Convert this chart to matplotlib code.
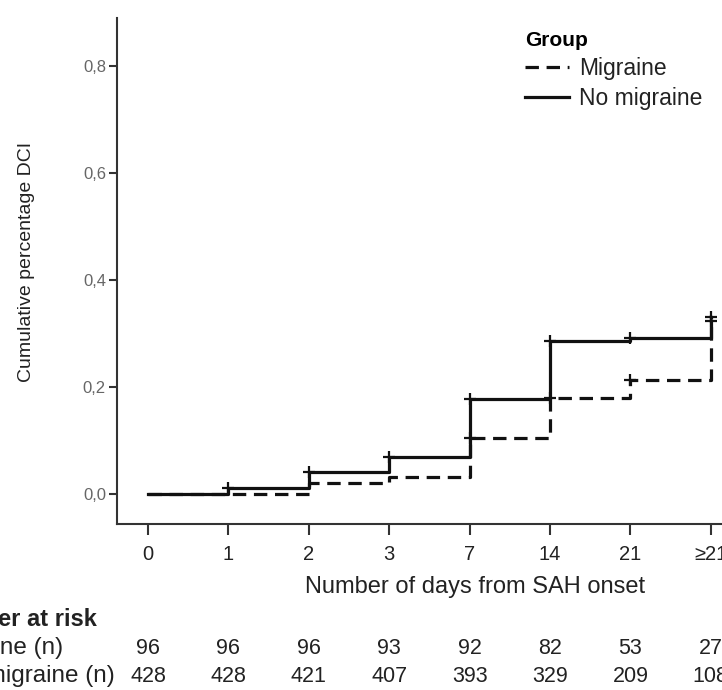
import matplotlib
matplotlib.use("Agg")
import matplotlib.pyplot as plt
from matplotlib.transforms import blended_transform_factory
import numpy as np

plt.rcParams['font.family'] = ['Liberation Sans', 'DejaVu Sans']

# ---- data ----
day_labels = ["0", "1", "2", "3", "7", "14", "21", "\u226521"]
migraine_cum = [0.0, 0.0, 0.021, 0.031, 0.104, 0.180, 0.213, 0.331]
no_migraine_cum = [0.0, 0.011, 0.042, 0.070, 0.178, 0.286, 0.291, 0.324]
migraine_censor_idx = [4, 5, 6, 7]
no_migraine_censor_idx = [1, 2, 3, 4, 5, 6, 7]
risk_migraine = [96, 96, 96, 93, 92, 82, 53, 27]
risk_no_migraine = [428, 428, 421, 407, 393, 329, 209, 108]
y_ticks = [0.0, 0.2, 0.4, 0.6, 0.8]
y_tick_labels = ["0,0", "0,2", "0,4", "0,6", "0,8"]

W, H = 722, 690
fig = plt.figure(figsize=(W / 100, H / 100), dpi=100)
ax_w_px = W - 117 + 7
ax = fig.add_axes([117 / W, 1 - 524 / H, ax_w_px / W, (524 - 18) / H])

xpos = np.arange(len(day_labels))
ax.plot(xpos, migraine_cum, drawstyle='steps-post', color='#111111', lw=2.3,
        dashes=(4.2, 2.4), label='Migraine')
ax.plot(xpos, no_migraine_cum, drawstyle='steps-post', color='#111111', lw=2.3,
        label='No migraine')
ax.plot(xpos[migraine_censor_idx], np.array(migraine_cum)[migraine_censor_idx],
        ls='none', marker='+', ms=8, mew=1.6, color='#111111')
ax.plot(xpos[no_migraine_censor_idx], np.array(no_migraine_cum)[no_migraine_censor_idx],
        ls='none', marker='+', ms=8, mew=1.6, color='#111111')

x_left = -(148 - 117) / 80.4
x_right = (722 + 7 - 148) / 80.4
ax.set_xlim(x_left, x_right)
ax.set_ylim(-30 / 535, (494 - 18) / 535)

ax.set_xticks(xpos)
ax.set_xticklabels(day_labels, fontsize=14.5, color='#222222')
ax.set_yticks(y_ticks)
ax.set_yticklabels(y_tick_labels, fontsize=12, color='#666666')
ax.tick_params(axis='x', direction='out', length=8, width=1.5, color='#333333', pad=7)
ax.tick_params(axis='y', direction='out', length=6, width=1.5, color='#333333', pad=2)

for s in ['top', 'right']:
    ax.spines[s].set_visible(False)
for s in ['left', 'bottom']:
    ax.spines[s].set_color('#333333')
    ax.spines[s].set_linewidth(1.5)

ax.set_xlabel("Number of days from SAH onset", fontsize=17, color='#222222')
ax.xaxis.set_label_coords((475 - 117) / ax_w_px, -(576 - 524) / 506)
ax.set_ylabel("Cumulative percentage DCI", fontsize=14, color='#222222')
ax.yaxis.set_label_coords((35 - 117) / ax_w_px, (524 - 262) / 506)

leg = ax.legend(title="Group", loc='upper left', bbox_to_anchor=(525 / W, 1 - 31 / H),
                bbox_transform=fig.transFigure, frameon=False, fontsize=16.5,
                handlelength=1.9, handletextpad=0.45, labelspacing=0.32,
                borderaxespad=0, borderpad=0)
leg.get_title().set_fontweight('bold')
leg.get_title().set_fontsize(15)
leg._legend_box.align = "left"
leg._legend_box.sep = 5
for t in leg.get_texts():
    t.set_color('#222222')

# ---- number at risk table ----
tr = blended_transform_factory(ax.transData, fig.transFigure)
row1_y = 1 - 648 / H
row2_y = 1 - 676 / H
for xi, v in zip(xpos, risk_migraine):
    ax.text(xi, row1_y, str(v), transform=tr, ha='center', va='center',
            fontsize=15.5, color='#222222', clip_on=False)
for xi, v in zip(xpos, risk_no_migraine):
    ax.text(xi, row2_y, str(v), transform=tr, ha='center', va='center',
            fontsize=15.5, color='#222222', clip_on=False)

fig.text(97 / W, 1 - 620 / H, "Number at risk", ha='right', va='center',
         fontsize=17, fontweight='bold', color='#222222')
fig.text(63 / W, row1_y, "Migraine (n)", ha='right', va='center',
         fontsize=17.5, color='#222222')
fig.text(115 / W, row2_y, "No migraine (n)", ha='right', va='center',
         fontsize=17.5, color='#222222')

fig.savefig("out.png", dpi=100)
